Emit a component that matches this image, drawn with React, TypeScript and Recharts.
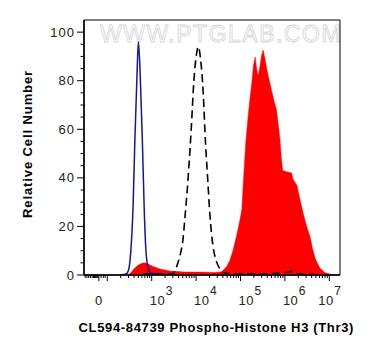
import React from "react";
import { ComposedChart, Area, Line, XAxis, YAxis, ReferenceArea } from "recharts";

// x is in display decades (biexponential-like scale), y is % of max
const redX = [2.466, 2.534, 2.6, 2.69, 2.78, 2.85, 2.94, 3.03, 3.19, 3.41, 3.75, 4.09, 4.43, 4.58, 4.69, 4.76, 4.83, 4.91, 4.97, 5.03, 5.07, 5.12, 5.17, 5.21, 5.26, 5.29, 5.33, 5.37, 5.4, 5.44, 5.47, 5.51, 5.55, 5.6, 5.65, 5.7, 5.75, 5.81, 5.85, 5.89, 5.92, 5.95, 6.04, 6.15, 6.18, 6.27, 6.34, 6.41, 6.49, 6.57, 6.62, 6.68, 6.74, 6.79, 6.9, 7.02, 7.13];
const redY = [0, 1, 2.5, 4, 4.8, 5, 4.3, 3.5, 2.5, 1.6, 1.2, 1.2, 1.0, 1.3, 3.5, 6, 10, 16, 21, 27, 40, 55, 65, 72, 80, 86, 89.8, 84, 82, 86, 90, 92.6, 89, 84, 80, 76, 72, 68, 62, 55.6, 48, 43, 42.5, 42, 39.5, 37, 31, 25.5, 20, 15.5, 11, 7, 4.5, 2.8, 1, 0.3, 0];

const blueX = [2.3, 2.44, 2.49, 2.53, 2.58, 2.62, 2.67, 2.7, 2.74, 2.79, 2.83, 2.87, 2.92, 2.97, 3.2, 3.4];
const blueY = [0, 0.7, 3, 10, 28, 55, 83, 96, 83, 55, 28, 10, 3, 0.8, 0.3, 0];

const dashX = [2.8, 3.2, 3.46, 3.52, 3.59, 3.65, 3.7, 3.75, 3.82, 3.89, 3.95, 4.01, 4.05, 4.1, 4.16, 4.21, 4.26, 4.31, 4.38, 4.45, 4.52, 4.58, 4.67, 4.9, 5.5, 6.0, 6.15, 6.3, 6.6, 7.0];
const dashY = [0.5, 0.5, 0.5, 1.5, 5, 9, 14, 24, 40, 60, 80, 91, 94, 89, 75, 55, 40, 25, 12, 6, 3, 1.5, 0.8, 0.5, 0.5, 1.0, 1.5, 0.5, 0.2, 0];

const xDomain = [1.475, 7.241];
const yDomain = [0, 105];

const xLabelTicks = [1.81, 3, 4, 5, 6, 7];
const xLabelExp = ["", "3", "4", "5", "6", "7"];
const xMajorTicks = [1.81, 2, 3, 4, 5, 6, 7];
const xZeroMinor = [1.5, 1.54, 1.58, 1.62, 1.66, 1.69, 1.71, 1.73, 1.75, 1.77, 1.79, 1.86, 1.91, 1.95];
const xLogMinor: number[] = [];
[2, 3, 4, 5, 6].forEach((d) => {
  for (let k = 2; k <= 9; k++) xLogMinor.push(d + Math.log10(k));
});
const xTicks = [...xMajorTicks, ...xZeroMinor, ...xLogMinor].sort((a, b) => a - b);

const yMajorTicks = [0, 20, 40, 60, 80, 100];
const yTicks = [0, 5, 10, 15, 20, 25, 30, 35, 40, 45, 50, 55, 60, 65, 70, 75, 80, 85, 90, 95, 100];

const font = '"Liberation Sans", Arial, sans-serif';

const rowMap = new Map<number, any>();
const put = (xs: number[], ys: number[], key: string) =>
  xs.forEach((x, i) => {
    const row = rowMap.get(x) || { x };
    row[key] = ys[i];
    rowMap.set(x, row);
  });
put(redX, redY, "red");
put(blueX, blueY, "blue");
put(dashX, dashY, "dash");
const data = [...rowMap.values()].sort((a, b) => a.x - b.x);

const XTick = (props: any) => {
  const { x, y, payload } = props;
  const v = payload.value;
  const major = xMajorTicks.includes(v);
  const li = xLabelTicks.indexOf(v);
  return (
    <g>
      <line x1={x} x2={x} y1={y} y2={y + (major ? 6 : 3)} stroke="#000" strokeWidth={1} />
      {li === 0 && (
        <text x={x} y={y + 30} textAnchor="middle" fontFamily={font} fontSize={13} fill="#222" letterSpacing={0.5}>
          0
        </text>
      )}
      {li > 0 && (
        <text x={x - (v === 7 ? 11 : 2)} y={y + 30} fontFamily={font} fontSize={13} fill="#222" letterSpacing={0.5}>
          10
          <tspan dx={0.5} dy={-10} fontSize={12}>{xLabelExp[li]}</tspan>
        </text>
      )}
    </g>
  );
};

const YTick = (props: any) => {
  const { x, y, payload } = props;
  const v = payload.value;
  const major = yMajorTicks.includes(v);
  return (
    <g>
      <line x1={x} x2={x - (major ? 7 : 3.5)} y1={y} y2={y} stroke="#000" strokeWidth={1} />
      {major && (
        <text x={x - 9} y={y + 4.6} textAnchor="end" fontFamily={font} fontSize={13} fill="#222" letterSpacing={1}>
          {v}
        </text>
      )}
    </g>
  );
};

export default function App() {
  return (
    <div style={{ position: "absolute", left: 0, top: 0, width: 369, height: 356, background: "#fff" }}>
      <svg width={369} height={356} style={{ position: "absolute", left: 0, top: 0 }}>
        <text x={100} y={41.5} fontFamily={font} fontSize={23} letterSpacing={1.5} fill="#fff" stroke="#d4d4d4" strokeWidth={0.8}>
          WWW.PTGLAB.COM
        </text>
      </svg>
      <div style={{ position: "absolute", left: 0, top: 0 }}>
        <ComposedChart width={369} height={356} data={data} margin={{ top: 20, right: 29, bottom: 0, left: 0 }}>
          <XAxis
            dataKey="x"
            type="number"
            domain={xDomain}
            allowDataOverflow
            ticks={xTicks}
            interval={0}
            tickSize={0}
            tickMargin={0}
            tickLine={false}
            tick={<XTick />}
            height={81}
            axisLine={{ stroke: "#000", strokeWidth: 1.5 }}
          />
          <YAxis
            type="number"
            domain={yDomain}
            allowDataOverflow
            ticks={yTicks}
            interval={0}
            tickSize={0}
            tickMargin={0}
            tickLine={false}
            tick={<YTick />}
            width={84}
            axisLine={{ stroke: "#000", strokeWidth: 1.5 }}
          />
          <ReferenceArea x1={xDomain[0]} x2={xDomain[1]} y1={yDomain[0]} y2={yDomain[1]} fill="none" stroke="#000" strokeWidth={1} fillOpacity={0} />
          <Area dataKey="red" type="linear" fill="#ff0000" fillOpacity={1} stroke="#ff0000" strokeWidth={0.5} connectNulls isAnimationActive={false} dot={false} activeDot={false} />
          <Line dataKey="blue" type="monotone" stroke="#1414a0" strokeWidth={1.5} connectNulls dot={false} activeDot={false} isAnimationActive={false} />
          <Line dataKey="dash" type="monotone" stroke="#000" strokeWidth={1.6} strokeDasharray="8 4.5" connectNulls dot={false} activeDot={false} isAnimationActive={false} />
        </ComposedChart>
      </div>
      <div
        style={{
          position: "absolute",
          left: 27,
          top: 143.5,
          transform: "translate(-50%, -50%) rotate(-90deg)",
          whiteSpace: "nowrap",
          fontFamily: font,
          fontWeight: "bold",
          fontSize: 13,
          letterSpacing: 0.9,
          color: "#000",
        }}
      >
        Relative Cell Number
      </div>
      <div
        style={{
          position: "absolute",
          left: 216.3,
          top: 327,
          transform: "translate(-50%, -50%)",
          whiteSpace: "nowrap",
          fontFamily: font,
          fontWeight: "bold",
          fontSize: 13,
          letterSpacing: 0.65,
          color: "#000",
        }}
      >
        CL594-84739 Phospho-Histone H3 (Thr3)
      </div>
    </div>
  );
}
